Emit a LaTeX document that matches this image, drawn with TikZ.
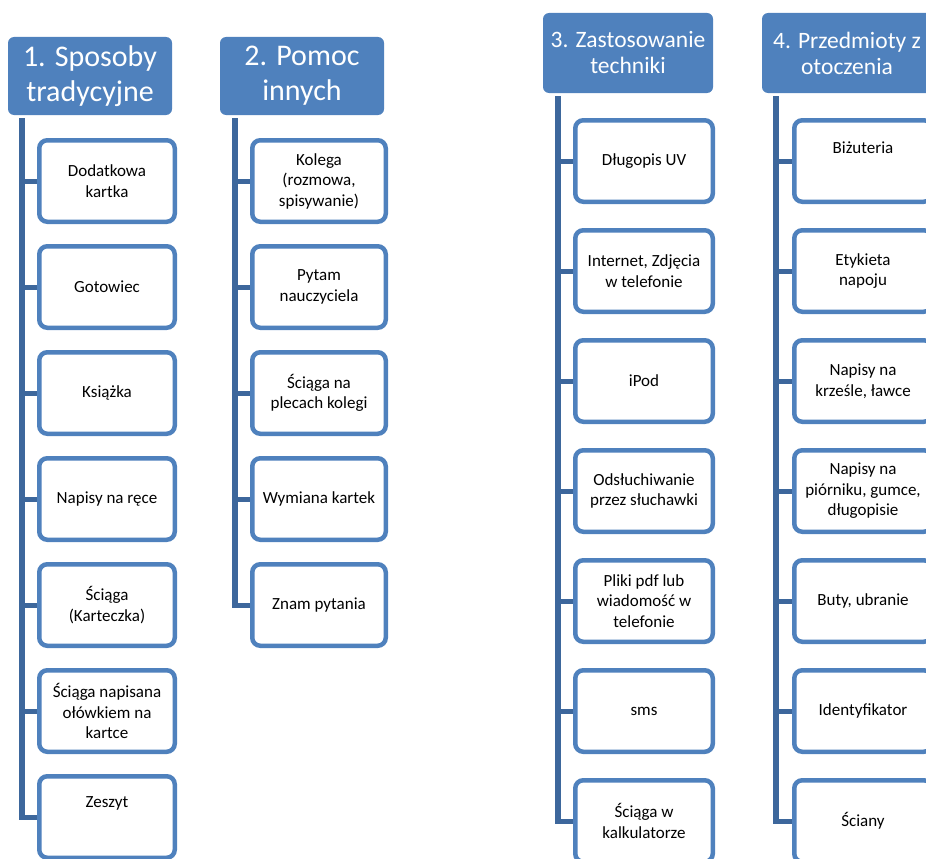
\documentclass[tikz,border=0pt]{standalone}
\usepackage{fontspec}
\setmainfont{Carlito}
\usetikzlibrary{backgrounds}
\definecolor{hdrblue}{RGB}{79,129,189}
\definecolor{spineblue}{RGB}{61,103,156}
\begin{document}
\begin{tikzpicture}[x=1pt,y=-1pt,
  header/.style={fill=hdrblue, rounded corners=6pt, text=white, align=center, inner sep=0pt},
  bigtitle/.style={header, font=\fontsize{30}{35}\selectfont, minimum width=164pt, minimum height=78pt},
  smalltitle/.style={header, font=\fontsize{23.5}{26}\selectfont, minimum width=170pt, minimum height=80pt},
  item/.style={draw=hdrblue, line width=4.5pt, fill=white, rounded corners=8pt, align=center,
    inner sep=0pt, font=\fontsize{17}{20.5}\selectfont, minimum height=81.5pt},
  itemA/.style={item, minimum width=135.5pt},
  itemB/.style={item, minimum width=133.5pt},
  itemC/.style={item, minimum width=137.5pt},
  itemtext/.style={align=center, inner sep=0pt, font=\fontsize{17}{20.5}\selectfont},
  spine/.style={draw=spineblue, line width=5.5pt},
  stub/.style={draw=spineblue, line width=5pt}]
\useasboundingbox (0,0) rectangle (926,859);
\clip (0,0) rectangle (926,859);

% column headers
\node[bigtitle] (h1) at (90,76) {1. Sposoby\\tradycyjne};
\node[bigtitle] (h2) at (302,76) {2. Pomoc\\innych};
\node[smalltitle] (h3) at (628,53) {3. Zastosowanie\\techniki};
\node[smalltitle] (h4) at (847,53) {4. Przedmioty z\\otoczenia};

% column 1
\node[itemA] (a1) at (107,181) {Dodatkowa\\kartka};
\node[itemA] (a2) at (107,287) {Gotowiec};
\node[itemA] (a3) at (107,393) {Książka};
\node[itemA] (a4) at (107,499) {Napisy na ręce};
\node[itemA] (a5) at (107,605) {Ściąga\\(Karteczka)};
\node[itemA] (a6) at (107,711) {Ściąga napisana\\ołówkiem na\\kartce};
\node[itemA] (a7) at (107,817) {};
\node[itemtext] at ([yshift=14pt]a7.center) {Zeszyt};

% column 2
\node[itemB] (b1) at (319,181) {Kolega\\(rozmowa,\\spisywanie)};
\node[itemB] (b2) at (319,287) {Pytam\\nauczyciela};
\node[itemB] (b3) at (319,393) {Ściąga na\\plecach kolegi};
\node[itemB] (b4) at (319,499) {Wymiana kartek};
\node[itemB] (b5) at (319,605) {Znam pytania};

% column 3
\node[itemC] (c1) at (644,161) {Długopis UV};
\node[itemC] (c2) at (644,271) {Internet, Zdjęcia\\w telefonie};
\node[itemC] (c3) at (644,381) {iPod};
\node[itemC] (c4) at (644,491) {Odsłuchiwanie\\przez słuchawki};
\node[itemC] (c5) at (644,601) {Pliki pdf lub\\wiadomość w\\telefonie};
\node[itemC] (c6) at (644,711) {sms};
\node[itemC] (c7) at (644,821) {Ściąga w\\kalkulatorze};

% column 4
\node[itemC] (d1) at (863,161) {};
\node[itemtext] at ([yshift=13pt]d1.center) {Biżuteria};
\node[itemC] (d2) at (863,271) {Etykieta\\napoju};
\node[itemC] (d3) at (863,381) {Napisy na\\krześle, ławce};
\node[itemC] (d4) at (863,491) {Napisy na\\piórniku, gumce,\\długopisie};
\node[itemC] (d5) at (863,601) {Buty, ubranie};
\node[itemC] (d6) at (863,711) {Identyfikator};
\node[itemC] (d7) at (863,821) {Ściany};

% spines and branches behind the boxes
\coordinate (s1) at (22,118);
\coordinate (s2) at (235,118);
\coordinate (s3) at (558,96);
\coordinate (s4) at (776,96);
\begin{scope}[on background layer]
  \draw[spine] (s1) -- (s1 |- a7.west);
  \draw[spine] (s2) -- (s2 |- b5.west);
  \draw[spine] (s3) -- (s3 |- c7.west);
  \draw[spine] (s4) -- (s4 |- d7.west);
  \foreach \n in {a1,a2,a3,a4,a5,a6,a7} \draw[stub] ([xshift=-2.75pt]s1 |- \n.west) -- (\n.west);
  \foreach \n in {b1,b2,b3,b4,b5} \draw[stub] ([xshift=-2.75pt]s2 |- \n.west) -- (\n.west);
  \foreach \n in {c1,c2,c3,c4,c5,c6,c7} \draw[stub] ([xshift=-2.75pt]s3 |- \n.west) -- (\n.west);
  \foreach \n in {d1,d2,d3,d4,d5,d6,d7} \draw[stub] ([xshift=-2.75pt]s4 |- \n.west) -- (\n.west);
\end{scope}
\end{tikzpicture}
\end{document}
